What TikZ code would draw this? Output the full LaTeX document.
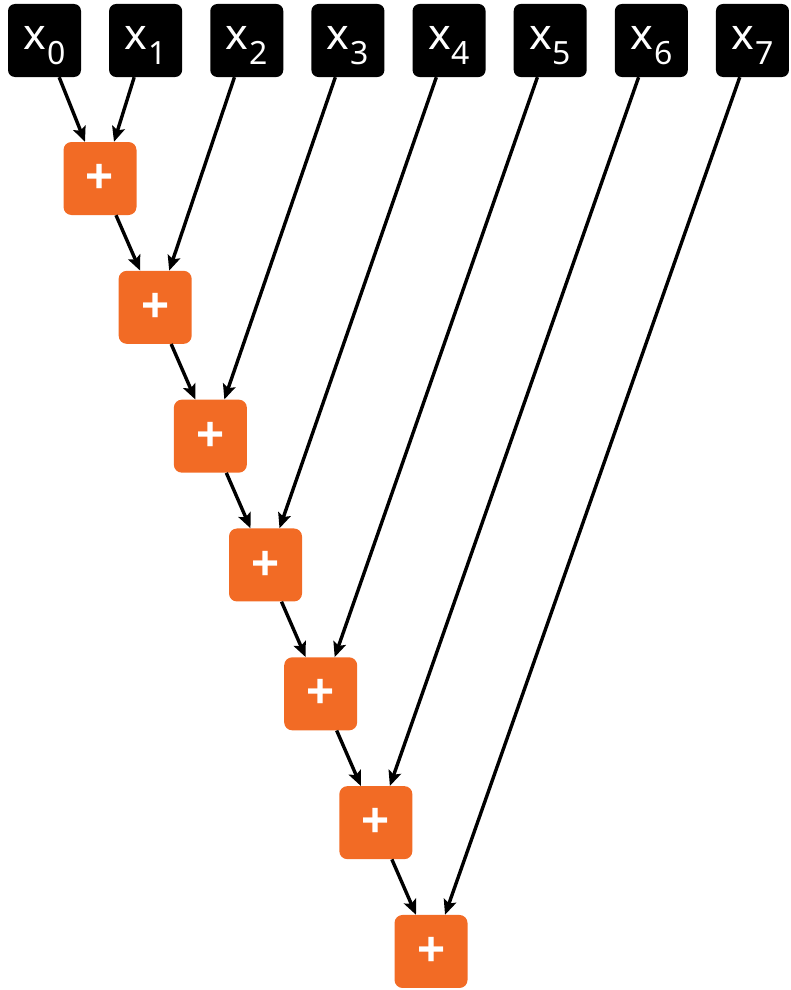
\documentclass[tikz,border=0pt]{standalone}
\usepackage{fontspec}
\setmainfont{Noto Sans}
\newfontfamily\plusfont{Liberation Sans}
\usetikzlibrary{arrows.meta,calc}
\definecolor{addorange}{HTML}{F26B25}
% input label: x with a lowered index
\newcommand\xlab[1]{\fontsize{43}{43}\selectfont x\kern1pt\raisebox{-14pt}{\fontsize{32}{32}\selectfont #1}}
% adder label
\newcommand\pluslab{\plusfont\fontsize{48}{48}\selectfont\bfseries +}
\begin{document}
\begin{tikzpicture}[x=1pt,y=-1pt,
  inbox/.style={fill=black,rounded corners=7pt,minimum size=73pt,inner sep=0pt,
    text=white,text height=23pt,text depth=4pt},
  addbox/.style={fill=addorange,rounded corners=8pt,minimum size=73pt,inner sep=0pt,
    text=white},
  flow/.style={line width=3.4pt,-{Stealth[length=15pt,width=13pt,inset=3pt]}}]
\useasboundingbox (0,0) rectangle (790,990);
% inputs
\foreach \i in {0,...,7}
  \node[inbox] (x\i) at (44.5+101.14*\i,40.5) {\xlab{\i}};
% chain of adders with their two input points
\foreach \k in {1,...,7} {
  \node[addbox] (s\k) at (100+55.17*\k-55.17,178.5+128.83*\k-128.83) {\pluslab};
  \coordinate (sl\k) at ($(s\k.north)+(-15,0)$);
  \coordinate (sr\k) at ($(s\k.north)+(14,0)$);
}
% edges
\draw[flow] (x0) -- (sl1);
\draw[flow] (x1) -- (sr1);
\foreach \k [count=\n from 2] in {1,...,6}
  \draw[flow] (s\k) -- (sl\n);
\foreach \k in {2,...,7}
  \draw[flow] (x\k) -- (sr\k);
\end{tikzpicture}
\end{document}
